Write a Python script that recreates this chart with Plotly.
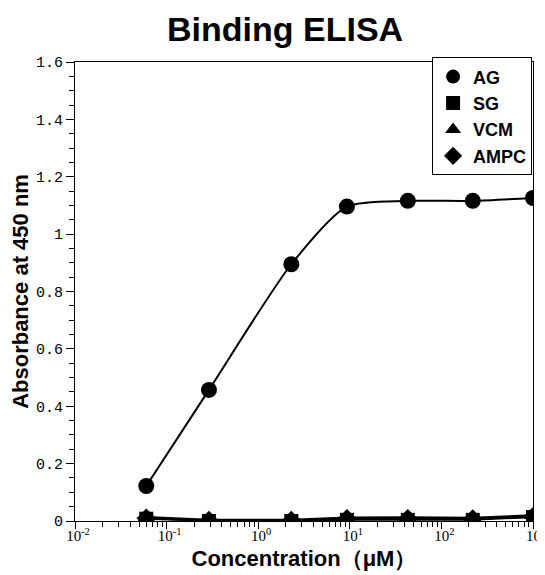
import plotly.graph_objects as go

# Data
concentration = [0.06, 0.29, 2.3, 9.3, 43, 220, 1000]
ag = [0.122, 0.457, 0.895, 1.096, 1.116, 1.116, 1.126]
sg = [0.008, 0.0, 0.0, 0.004, 0.004, 0.004, 0.014]
vcm = [0.014, 0.004, 0.004, 0.012, 0.013, 0.011, 0.02]
ampc = [0.010, 0.002, 0.002, 0.008, 0.008, 0.007, 0.015]

x_tickvals = [0.01, 0.1, 1, 10, 100, 1000]
x_ticktext = ["10<sup>-2</sup>", "10<sup>-1</sup>", "10<sup>0</sup>",
              "10<sup>1</sup>", "10<sup>2</sup>", "10<sup>3</sup>"]
y_tickvals = [0, 0.2, 0.4, 0.6, 0.8, 1.0, 1.2, 1.4, 1.6]
y_ticktext = ["0", "0.2", "0.4", "0.6", "0.8", "1", "1.2", "1.4", "1.6"]

series = [
    ("AMPC", ampc, "diamond", 15, "linear"),
    ("VCM", vcm, "triangle-up", 15, "linear"),
    ("SG", sg, "square", 14, "linear"),
    ("AG", ag, "circle", 16, "spline"),
]
legend_order = ["AG", "SG", "VCM", "AMPC"]

fig = go.Figure()
for name, vals, sym, size, shape in series:
    fig.add_trace(go.Scatter(
        x=concentration, y=vals, mode="lines+markers", name=name,
        line=dict(color="black", width=2, shape=shape, smoothing=0.7),
        marker=dict(symbol=sym, size=size, color="black"),
        showlegend=False,
    ))
sym_map = {n: s for n, _, s, _, _ in series}
for name in legend_order:
    fig.add_trace(go.Scatter(
        x=[None], y=[None], mode="markers", name=name,
        marker=dict(symbol=sym_map[name], size=14, color="black"),
    ))

# page body has an 8px margin, so the figure is 8px smaller than the window
fig.update_layout(
    width=537, height=567,
    paper_bgcolor="white", plot_bgcolor="white",
    margin=dict(l=67, r=12, t=54, b=54, autoexpand=False),
    title=dict(text="<b>Binding ELISA</b>", x=0.516, xref="container",
               y=0.962, yref="container", yanchor="middle", xanchor="center",
               font=dict(family="Liberation Sans", size=34, color="black"),
               automargin=False),
    showlegend=True,
    legend=dict(x=0.998, xanchor="right", y=1.01, yanchor="top",
                bordercolor="black", borderwidth=1, bgcolor="white",
                font=dict(family="Liberation Sans", size=18, color="black",
                          weight="bold"),
                itemwidth=30, tracegroupgap=0, traceorder="normal"),
)
fig.update_xaxes(
    type="log", range=[-2, 3], automargin=False,
    tickvals=x_tickvals, ticktext=x_ticktext,
    ticks="outside", ticklen=7, tickcolor="black", tickwidth=1,
    ticklabelstandoff=-6, ticklabelshift=3, ticklabeloverflow="allow",
    minor=dict(ticks="outside", ticklen=5, dtick="D1", tickcolor="black",
               showgrid=False),
    showline=True, linecolor="black", linewidth=1, mirror=True,
    showgrid=False, zeroline=False,
    tickfont=dict(family="Liberation Sans Narrow", size=15, color="black"),
    title=dict(text="<b>Concentration（μM）</b>", standoff=7,
               font=dict(family="Liberation Sans", size=22, color="black")),
)
fig.update_yaxes(
    range=[0, 1.6], automargin=False,
    tickvals=y_tickvals, ticktext=y_ticktext,
    ticks="outside", ticklen=8, tickcolor="black", tickwidth=1,
    minor=dict(ticks="outside", ticklen=5, dtick=0.05, tick0=0,
               tickcolor="black", showgrid=False),
    showline=True, linecolor="black", linewidth=1, mirror=True,
    showgrid=False, zeroline=False,
    tickfont=dict(family="Liberation Mono", size=15, color="black"),
    title=dict(text="<b>Absorbance at 450 nm</b>", standoff=8,
               font=dict(family="Liberation Sans", size=22, color="black")),
)

fig.write_html("out.html")
